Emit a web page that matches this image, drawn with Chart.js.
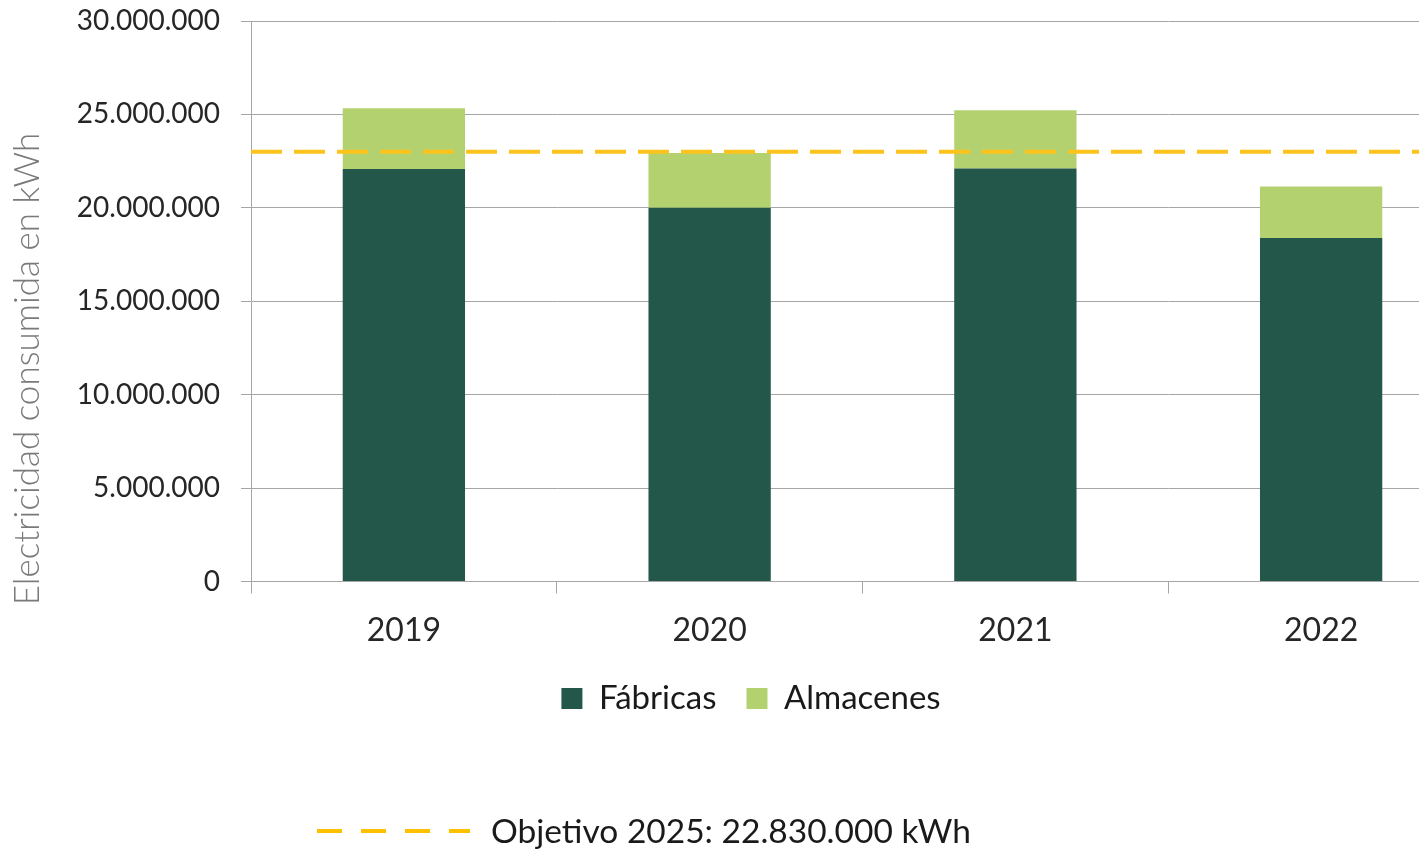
<!DOCTYPE html>
<html>
<head>
<meta charset="utf-8">
<script src="https://cdn.jsdelivr.net/npm/chart.js@4/dist/chart.umd.min.js"></script>
<style>
  html, body { margin: 0; padding: 0; background: #fff; overflow: hidden; }
  #wrap { width: 1419px; height: 849px; overflow: hidden; }
</style>
</head>
<body>
<div id="wrap"><canvas id="chart" width="1474" height="849"></canvas></div>
<script>
// datos
const years = ['2019', '2020', '2021', '2022'];
const fabricas = [22080000, 20000000, 22100000, 18390000];
const almacenes = [3250000, 2940000, 3130000, 2750000];
const objetivo = 23000000;
const objetivoLabel = 'Objetivo 2025: 22.830.000 kWh';
const yTitle = 'Electricidad consumida en kWh';
const yTicks = [0, 5000000, 10000000, 15000000, 20000000, 25000000, 30000000];

const FONT = "Lato, 'Open Sans', sans-serif";

function fmt(v) {
    return String(v).replace(/\B(?=(\d{3})+(?!\d))/g, '.');
}

// linea de objetivo, titulo del eje y leyenda inferior
const objetivoPlugin = {
    id: 'objetivo',
    afterDatasetsDraw(chart) {
        const ctx = chart.ctx;
        const area = chart.chartArea;
        const y = chart.scales.y.getPixelForValue(objetivo);
        ctx.save();
        ctx.strokeStyle = '#fbc31c';
        ctx.lineWidth = 4;
        ctx.setLineDash([31, 12]);
        ctx.beginPath();
        ctx.moveTo(area.left, y);
        ctx.lineTo(area.right, y);
        ctx.stroke();
        ctx.restore();
    },
    afterDraw(chart) {
        const ctx = chart.ctx;
        ctx.save();
        // titulo eje y
        ctx.translate(28, 369);
        ctx.rotate(-Math.PI / 2);
        ctx.fillStyle = '#7a7a7a';
        ctx.font = '300 35px ' + FONT;
        ctx.textAlign = 'center';
        ctx.textBaseline = 'middle';
        ctx.fillText(yTitle, 0, 0);
        ctx.restore();

        ctx.save();
        ctx.strokeStyle = '#ffc000';
        ctx.lineWidth = 4;
        ctx.setLineDash([25, 19]);
        ctx.beginPath();
        ctx.moveTo(317, 831);
        ctx.lineTo(470, 831);
        ctx.stroke();
        ctx.setLineDash([]);
        ctx.fillStyle = '#1a1a1a';
        ctx.font = '33.5px ' + FONT;
        ctx.textBaseline = 'middle';
        ctx.fillText(objetivoLabel, 491, 832);
        ctx.restore();
    }
};

new Chart(document.getElementById('chart'), {
    type: 'bar',
    data: {
        labels: years,
        datasets: [
            {
                label: 'Fábricas',
                data: fabricas,
                backgroundColor: '#22574a',
                barPercentage: 0.4,
                categoryPercentage: 1
            },
            {
                label: 'Almacenes',
                data: almacenes,
                backgroundColor: '#b3d26f',
                barPercentage: 0.4,
                categoryPercentage: 1
            }
        ]
    },
    options: {
        responsive: false,
        animation: false,
        layout: { padding: { left: 28, top: 0, right: 0, bottom: 124 } },
        scales: {
            x: {
                stacked: true,
                afterFit(scale) {
                    scale.height = scale.height - 16;
                },
                grid: {
                    offset: true,
                    drawOnChartArea: false,
                    tickLength: 12,
                    color: '#a6a6a6'
                },
                border: { color: '#a6a6a6' },
                ticks: {
                    color: '#262626',
                    font: { family: FONT, size: 32 },
                    padding: 18
                }
            },
            y: {
                stacked: true,
                min: 0,
                max: 30000000,
                afterBuildTicks(scale) {
                    scale.ticks = yTicks.map(v => ({ value: v }));
                },
                afterFit(scale) {
                    scale.width = 223;
                    scale.paddingTop = 21;
                    scale.paddingBottom = 0;
                },
                grid: {
                    color: '#a6a6a6',
                    tickLength: 10
                },
                border: { color: '#a6a6a6' },
                ticks: {
                    color: '#262626',
                    font: { family: FONT, size: 28 },
                    padding: 21,
                    callback: v => fmt(v)
                }
            }
        },
        plugins: {
            legend: {
                position: 'bottom',
                labels: {
                    color: '#1a1a1a',
                    font: { family: FONT, size: 33 },
                    boxWidth: 21,
                    boxHeight: 21,
                    padding: 30
                }
            },
            tooltip: { enabled: false }
        }
    },
    plugins: [objetivoPlugin]
});
</script>
</body>
</html>
